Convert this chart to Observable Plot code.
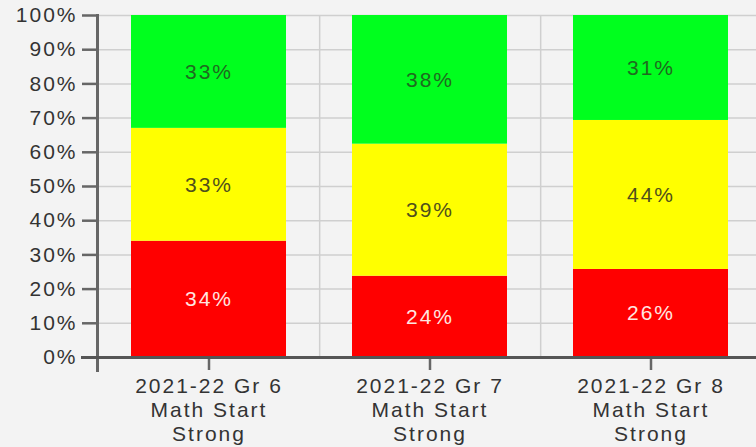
<!DOCTYPE html>
<html><head><meta charset="utf-8">
<script src="https://cdn.jsdelivr.net/npm/d3@7"></script>
<script src="https://cdn.jsdelivr.net/npm/@observablehq/plot@0.6"></script>
<style>
html,body{margin:0;padding:0;background:#f3f3f3;overflow:hidden;}
</style></head><body><div id="chart"></div>
<script>
const categories = ["2021-22 Gr 6\nMath Start\nStrong", "2021-22 Gr 7\nMath Start\nStrong", "2021-22 Gr 8\nMath Start\nStrong"];
const levels = ["Below", "Near", "Above"];
const belowValues = [34, 24, 26];
const nearValues = [33, 39, 44];
const aboveValues = [33, 38, 31];
const levelColors = ["#ff0000", "#ffff00", "#00ff1e"];
const labelColors = ["#ffe6e0", "#4f4f1c", "#1f6a1f"];
const yTicks = [0, 0.1, 0.2, 0.3, 0.4, 0.5, 0.6, 0.7, 0.8, 0.9, 1];

const seriesValues = [belowValues, nearValues, aboveValues];
const data = [];
levels.forEach((lvl, i) => {
  categories.forEach((c, j) => data.push({category: c, level: lvl, value: seriesValues[i][j]}));
});

const marginLeft = 97, marginRight = -5;
const W = 756;
const step = (W - marginRight - marginLeft) / categories.length;

const labelMarks = levels.map((lvl, i) =>
  Plot.text(data, Plot.stackY({
    x: "category", y: "value", z: "level", offset: "normalize",
    text: d => d.level === lvl ? d.value + "%" : null,
    fill: labelColors[i], fontSize: 21
  }))
);

const chart = Plot.plot({
  width: W, height: 447,
  marginLeft, marginRight, marginTop: 15, marginBottom: 90,
  style: {background: "#f3f3f3", fontFamily: "'Liberation Sans', Arial, sans-serif", letterSpacing: "2px", color: "#333"},
  x: {domain: categories, paddingInner: 0.3, paddingOuter: 0.15, label: null},
  y: {domain: [0, 1], label: null},
  color: {type: "ordinal", domain: levels, range: levelColors},
  marks: [
    Plot.gridY({ticks: yTicks, stroke: "#cfcfcf", strokeOpacity: 1, strokeWidth: 1.5}),
    Plot.ruleX(categories.slice(0, -1), {dx: step / 2, stroke: "#cfcfcf", strokeWidth: 1.5}),
    Plot.barY(data, Plot.stackY({x: "category", y: "value", z: "level", fill: "level", offset: "normalize"})),
    ...labelMarks,
    Plot.axisY({ticks: yTicks, tickFormat: d3.format(".0%"), tickSize: 15, tickPadding: 5, fontSize: 21, stroke: "#666", strokeWidth: 2.5, fill: "#333", label: null}),
    Plot.axisX({tickSize: 13, tickPadding: 5, fontSize: 21, lineHeight: 1.15, stroke: "#666", strokeWidth: 2.5, fill: "#333", label: null}),
    Plot.frame({anchor: "left", stroke: "#666", strokeWidth: 3, insetBottom: -13}),
    Plot.frame({anchor: "bottom", stroke: "#555", strokeWidth: 3, insetLeft: -15})
  ]
});
document.getElementById("chart").appendChild(chart);
</script></body></html>
